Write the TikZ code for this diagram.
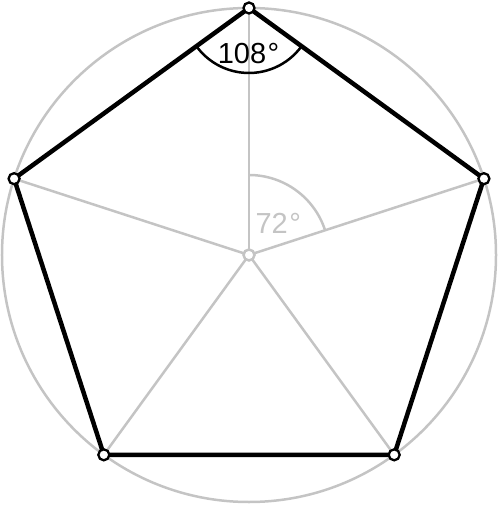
\documentclass[tikz,border=0pt]{standalone}
\usepackage{fontspec}
\setmainfont{Liberation Sans}
\usetikzlibrary{calc}
\definecolor{lgray}{HTML}{C4C4C4}
\begin{document}
\begin{tikzpicture}[x=1pt,y=1pt,
  guide/.style={draw=lgray,line width=2.5pt},
  edge/.style={draw=black,line width=4.5pt,line join=round},
  vmark/.style={circle,draw=black,fill=white,line width=2.3pt,minimum size=11pt,inner sep=0pt},
  cmark/.style={circle,draw=lgray,fill=white,line width=2.5pt,minimum size=11pt,inner sep=0pt},
  lbl/.style={font=\fontsize{29}{34}\selectfont,inner sep=0pt}]
\useasboundingbox (-249,-250) rectangle (250,255);
\coordinate (O) at (0,0);
\coordinate (A) at (90:247);
\coordinate (B) at (18:247);
\coordinate (C) at (-54:247);
\coordinate (D) at (-126:247);
\coordinate (E) at (162:247);
\draw[guide] (O) circle[radius=247];
\foreach \p in {A,B,C,D,E} \draw[guide] (O) -- (\p);
\draw[guide] (90:80) arc[start angle=90,end angle=18,radius=80];
\draw[black,line width=2.5pt] ($(A)+(-36:65)$) arc[start angle=-36,end angle=-144,radius=65];
\draw[edge] (A) -- (B) -- (C) -- (D) -- (E) -- cycle;
\node[cmark] (o) at (O) {};
\foreach \p in {A,B,C,D,E} \node[vmark] (m\p) at (\p) {};
\node[lbl,text=black] (t108) at (-0.5,201.7) {108\kern1.5pt°};
\node[lbl,text=lgray] (t72) at (29.3,31.7) {72\kern1.5pt°};
\end{tikzpicture}
\end{document}
